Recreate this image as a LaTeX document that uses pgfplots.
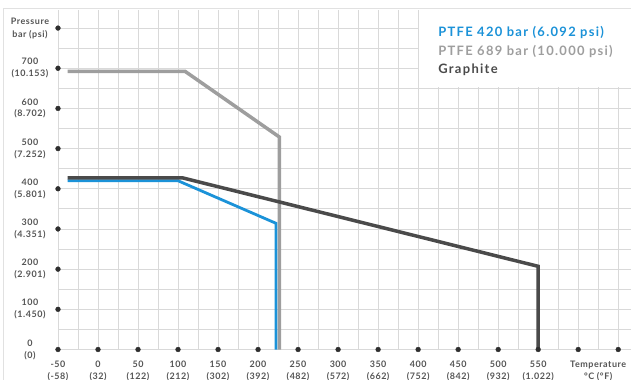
\documentclass[border=0pt]{standalone}
\usepackage{pgfplots}
\pgfplotsset{compat=1.18}
\usepackage{fontspec}
\setmainfont{Lato}[LetterSpace=6]
\definecolor{cblue}{HTML}{1B92D8}
\definecolor{cgray}{HTML}{9E9E9E}
\definecolor{cdark}{HTML}{4A4A4A}
\definecolor{ctick}{HTML}{555555}
\definecolor{cgrid}{HTML}{D9D9D9}
\definecolor{cdot}{HTML}{2E2E2E}
\begin{document}
\begin{tikzpicture}
\begin{axis}[
  scale only axis, width=573bp, height=339.5bp,
  xmin=-50, xmax=666, ymin=0, ymax=845,
  axis line style={draw=none}, clip=false,
  xtick={-50,0,...,650}, minor xtick={-25,25,...,650},
  ytick={0,100,...,800}, minor ytick={50,150,...,800},
  grid=both,
  major grid style={cgrid, line width=0.9bp},
  minor grid style={cgrid, line width=0.9bp},
  tick style={draw=none},
  major tick length=0pt, minor tick length=0pt,
  xticklabels={-50\\(-58),0\\(32),50\\(122),100\\(212),150\\(302),200\\(392),250\\(482),300\\(572),350\\(662),400\\(752),450\\(842),500\\(932),550\\(1.022),{},{}},
  yticklabels={0\\(0),100\\(1.450),200\\(2.901),300\\(4.351),400\\(5.801),500\\(7.252),600\\(8.702),700\\(10.153),{}},
  every tick label/.style={font=\fontsize{9}{12}\selectfont\bfseries, text=ctick, align=center},
  xticklabel style={anchor=center, yshift=-21.5bp},
  yticklabel style={anchor=center, xshift=-28bp},
  xticklabel shift=0pt, yticklabel shift=0pt,
]
\addplot[cblue, line width=2.8bp, line join=miter] coordinates {(-38,420) (100,420) (222.5,314) (222.5,0)};
\addplot[cgray, line width=3.5bp, line join=miter] coordinates {(-38,692) (109,692) (226.5,529) (226.5,0)};
\addplot[cdark, line width=3.5bp, line join=miter] coordinates {(-38,427) (106,427) (550,207) (550,0)};
\addplot[only marks, mark=*, mark size=2.4bp, color=cdot] coordinates {
  (-50,0) (-50,100) (-50,200) (-50,300) (-50,400) (-50,500) (-50,600) (-50,700) (-50,800)
  (0,0) (50,0) (100,0) (150,0) (200,0) (250,0) (300,0) (350,0) (400,0) (450,0) (500,0) (550,0) (600,0) (650,0)};
\node[font=\fontsize{9}{13}\selectfont\bfseries, text=ctick, align=center] at ([xshift=-28bp]axis cs:-50,800) {Pressure\\bar (psi)};
\node[font=\fontsize{9}{12}\selectfont\bfseries, text=ctick, align=center] at ([yshift=-21.5bp]axis cs:625,0) {Temperature\\°C (°F)};
\fill[white] (axis cs:401,653) rectangle (axis cs:667,850);
\node[anchor=west, inner sep=0pt, font=\fontsize{13}{18}\selectfont\bfseries\addfontfeatures{LetterSpace=10}, text=cblue] at (axis cs:425,789) {PTFE 420 bar (6.092 psi)};
\node[anchor=west, inner sep=0pt, font=\fontsize{13}{18}\selectfont\bfseries\addfontfeatures{LetterSpace=10}, text=cgray] at (axis cs:425,742) {PTFE 689 bar (10.000 psi)};
\node[anchor=west, inner sep=0pt, font=\fontsize{13}{18}\selectfont\bfseries\addfontfeatures{LetterSpace=10}, text=cdark] at (axis cs:425,697) {Graphite};
\end{axis}
\draw[cgrid!80, line width=0.8bp] (-55bp,-30.5bp) -- (-55bp,341.5bp) -- (573bp,341.5bp);
\pgfresetboundingbox
\path[use as bounding box] (-58bp,-30.5bp) rectangle (573bp,349.5bp);
\end{tikzpicture}
\end{document}
